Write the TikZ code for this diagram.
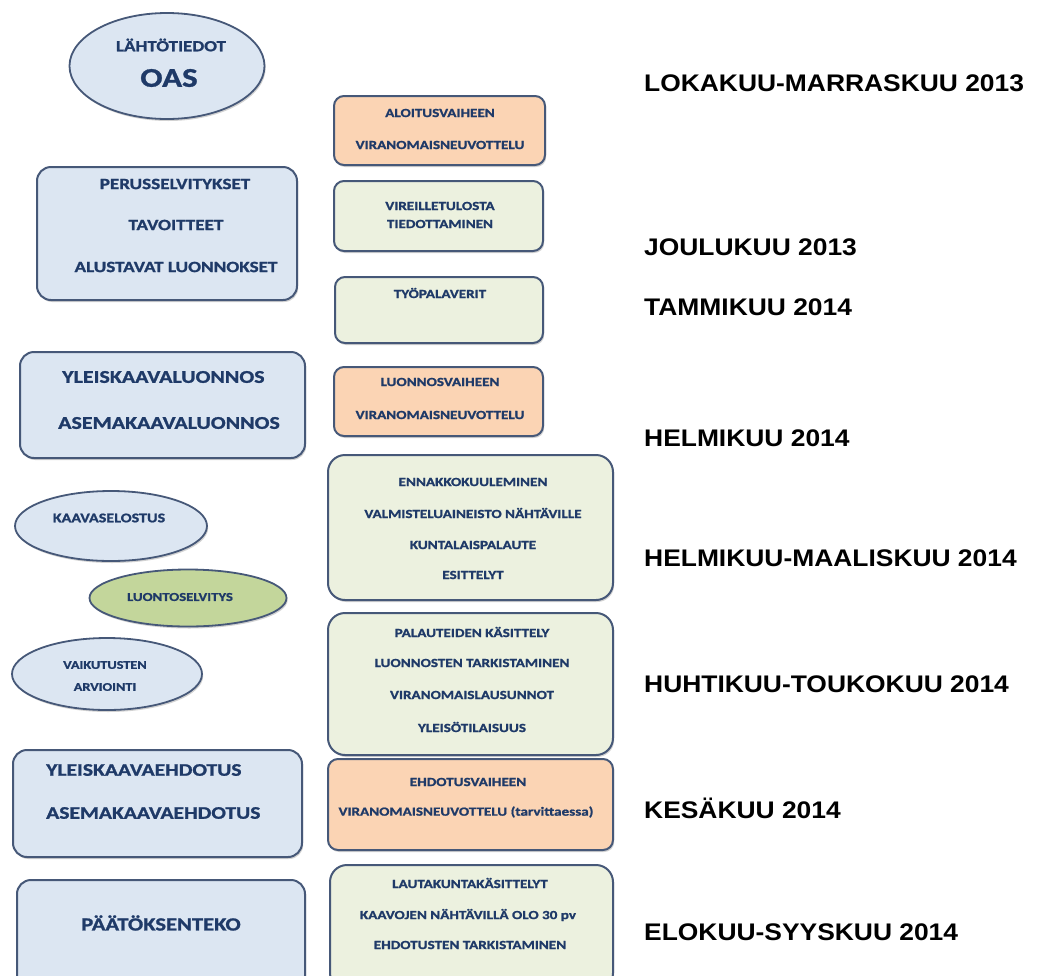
\documentclass[tikz,border=0pt]{standalone}
\usepackage{fontspec}
\usetikzlibrary{shapes.geometric,shadows}
\newfontfamily\cbf[FakeStretch=1.22,BoldFeatures={FakeBold=1.2}]{Carlito}
\newfontfamily\labf[FakeStretch=1.1]{Liberation Sans}
\definecolor{bluefill}{HTML}{DCE6F2}
\definecolor{edge}{HTML}{465878}
\definecolor{orangefill}{HTML}{FBD4B4}
\definecolor{paleg}{HTML}{ECF1DF}
\definecolor{greenfill}{HTML}{C3D69B}
\definecolor{navy}{HTML}{1F3A68}
\tikzset{
  sh/.style={drop shadow={opacity=0.35,shadow xshift=1.2pt,shadow yshift=-2pt}},
  lbox/.style={draw=edge,line width=2pt,fill=bluefill,rounded corners=14pt,inner sep=0,sh},
  mbox/.style={draw=edge,line width=2pt,rounded corners=10pt,inner sep=0,sh},
  obox/.style={mbox,fill=orangefill},
  gbox/.style={mbox,fill=paleg},
  bigbox/.style={gbox,rounded corners=17pt},
  ell/.style={ellipse,draw=edge,line width=1.8pt,fill=bluefill,inner sep=0,sh},
  gell/.style={ell,fill=greenfill},
  tx/.style={inner sep=0,text=navy,font=\cbf\bfseries\fontsize{#1}{#1}\selectfont},
  mt/.style={tx=12.4},
  lab/.style={inner sep=0,anchor=west,text=black,font=\labf\bfseries\fontsize{24}{24}\selectfont}
}
\begin{document}
\begin{tikzpicture}[x=1pt,y=-1pt]
\useasboundingbox (0,0) rectangle (1039,975);
\fill[white] (0,0) rectangle (1039,975);
\begin{scope}
\clip (0,0) rectangle (1039,975);
% ellipses
\node[ell,minimum width=195pt,minimum height=106pt] (e1) at (167,66) {};
\node[ell,minimum width=192pt,minimum height=70pt] (e2) at (111,526) {};
\node[gell,minimum width=197pt,minimum height=57pt] (e3) at (188,598) {};
\node[ell,minimum width=190pt,minimum height=72pt] (e4) at (107,674) {};
% left boxes
\node[lbox,minimum width=260pt,minimum height=133pt] (l1) at (167,233.5) {};
\node[lbox,minimum width=285pt,minimum height=106pt] (l2) at (162.5,405) {};
\node[lbox,minimum width=289pt,minimum height=107pt] (l3) at (157.5,803.5) {};
\node[lbox,minimum width=288pt,minimum height=110pt] (l4) at (161,935) {};
% middle boxes
\node[obox,minimum width=211pt,minimum height=69pt] (m1) at (439.5,130.5) {};
\node[gbox,minimum width=209pt,minimum height=70pt] (m2) at (438.5,216) {};
\node[gbox,minimum width=208pt,minimum height=66pt] (m3) at (439,310) {};
\node[obox,minimum width=209pt,minimum height=69pt] (m4) at (438.5,401.5) {};
\node[bigbox,minimum width=285pt,minimum height=145pt] (m5) at (470.5,527.5) {};
\node[bigbox,minimum width=285pt,minimum height=142pt] (m6) at (470.5,684) {};
\node[obox,minimum width=285pt,minimum height=91pt] (m7) at (470.5,804.5) {};
\node[bigbox,minimum width=283pt,minimum height=125pt] (m8) at (471.5,927.5) {};
\end{scope}
% ellipse texts
\node[tx=15.5] (t1) at (171,45) {LÄHTÖTIEDOT};
\node[tx=27] (t2) at (169,78) {OAS};
\node[tx=13.2] (t3) at (109,518) {KAAVASELOSTUS};
\node[tx=12.1] (t4) at (180,597) {LUONTOSELVITYS};
\node[tx=11.7] (t5) at (105,665) {VAIKUTUSTEN};
\node[tx=11.7] (t6) at (105,687) {ARVIOINTI};
% left box texts
\node[tx=15.7] (t7) at (175,184) {PERUSSELVITYKSET};
\node[tx=15.7] (t8) at (176,225) {TAVOITTEET};
\node[tx=15.7] (t9) at (176,267) {ALUSTAVAT LUONNOKSET};
\node[tx=18,anchor=west] (t10) at (62,377) {YLEISKAAVALUONNOS};
\node[tx=18,anchor=west] (t11) at (58,423) {ASEMAKAAVALUONNOS};
\node[tx=17.7,anchor=west] (t12) at (46,770) {YLEISKAAVAEHDOTUS};
\node[tx=17.7,anchor=west] (t13) at (46,813) {ASEMAKAAVAEHDOTUS};
\node[tx=18.5] (t14) at (161,923) {PÄÄTÖKSENTEKO};
% middle texts
\node[mt] (u1) at (440,113) {ALOITUSVAIHEEN};
\node[mt] (u2) at (440,145) {VIRANOMAISNEUVOTTELU};
\node[mt] (u3) at (440,206) {VIREILLETULOSTA};
\node[mt] (u4) at (440,224) {TIEDOTTAMINEN};
\node[mt] (u5) at (440,293) {TYÖPALAVERIT};
\node[mt] (u6) at (440,382) {LUONNOSVAIHEEN};
\node[mt] (u7) at (440,415) {VIRANOMAISNEUVOTTELU};
\node[mt] (u8) at (473,482) {ENNAKKOKUULEMINEN};
\node[mt] (u9) at (473,513) {VALMISTELUAINEISTO NÄHTÄVILLE};
\node[mt] (u10) at (473,545) {KUNTALAISPALAUTE};
\node[mt] (u11) at (473,575) {ESITTELYT};
\node[mt] (u12) at (472,632) {PALAUTEIDEN KÄSITTELY};
\node[mt] (u13) at (472,663) {LUONNOSTEN TARKISTAMINEN};
\node[mt] (u14) at (472,695) {VIRANOMAISLAUSUNNOT};
\node[mt] (u15) at (472,727) {YLEISÖTILAISUUS};
\node[mt] (u16) at (468,782) {EHDOTUSVAIHEEN};
\node[mt] (u17) at (466,812) {VIRANOMAISNEUVOTTELU (tarvittaessa)};
\node[mt] (u18) at (470,883) {LAUTAKUNTAKÄSITTELYT};
\node[mt] (u19) at (468,915) {KAAVOJEN NÄHTÄVILLÄ OLO 30 pv};
\node[mt] (u20) at (470,945) {EHDOTUSTEN TARKISTAMINEN};
% right labels
\node[lab] (r1) at (644,83) {LOKAKUU-MARRASKUU 2013};
\node[lab] (r2) at (644,247) {JOULUKUU 2013};
\node[lab] (r3) at (644,307) {TAMMIKUU 2014};
\node[lab] (r4) at (644,438) {HELMIKUU 2014};
\node[lab] (r5) at (644,558) {HELMIKUU-MAALISKUU 2014};
\node[lab] (r6) at (644,684) {HUHTIKUU-TOUKOKUU 2014};
\node[lab] (r7) at (644,808) {KESÄKUU 2014};
\node[lab] (r8) at (644,932) {ELOKUU-SYYSKUU 2014};
\end{tikzpicture}
\end{document}
